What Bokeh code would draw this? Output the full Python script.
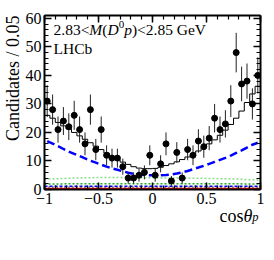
import numpy as np
from bokeh.plotting import figure
from bokeh.models import Label, LinearAxis, FixedTicker, Range1d, Title
from bokeh.embed import file_html
from bokeh.resources import INLINE

# ---------------- data ----------------
x_lo, x_hi, n_bins = -1.0, 1.0, 40
data_counts = [31, 28, 21, 24, 22, 26, 21, 16, 28, 14,
               21, 12, 11, 11, 8, 4, 4, 5, 6, 12,
               5, 9, 16, 3, 13, 4, 14, 12, 17, 15,
               18, 25, 21, 23, 31, 48, 37, 38, 30, 40]
fit_total = [26.0, 25.0, 23.5, 22.3, 21.2, 20.0, 18.8, 17.6, 16.4, 15.2,
             14.0, 12.8, 11.6, 10.5, 9.6, 8.8, 8.0, 7.5, 7.3, 7.3,
             7.4, 7.8, 8.4, 9.0, 9.7, 10.5, 11.4, 12.4, 13.5, 14.7,
             16.0, 17.4, 19.0, 20.8, 22.8, 25.0, 27.5, 30.5, 33.5, 36.2]
signal_curve = [17.0, 16.1, 15.2, 14.2, 13.3, 12.5, 11.7, 10.9, 10.1, 9.4,
                8.7, 8.0, 7.4, 6.9, 6.4, 5.9, 5.5, 5.3, 5.1, 5.0,
                5.0, 5.0, 5.1, 5.3, 5.6, 6.0, 6.5, 7.1, 7.7, 8.3,
                9.0, 9.7, 10.4, 11.1, 11.9, 12.8, 13.7, 14.7, 15.7, 16.4]
bkg_x = [-1.0, -0.75, -0.5, -0.25, 0.0, 0.25, 0.5, 0.75, 1.0]
bkg_light_green = [3.6, 4.0, 4.2, 4.2, 4.1, 4.0, 3.9, 3.7, 3.3]
bkg_dark_green = [1.9, 2.0, 2.0, 2.0, 2.0, 2.0, 2.0, 2.0, 1.9]
bkg_blue = [1.1, 1.1, 1.1, 1.1, 1.1, 1.1, 1.1, 1.1, 1.1]
bkg_black = [0.8, 0.8, 0.8, 0.8, 0.8, 0.8, 0.8, 0.8, 0.8]
bkg_red = [0.15, 0.15, 0.15, 0.15, 0.15, 0.15, 0.15, 0.15, 0.15]
x_major = [-1, -0.5, 0, 0.5, 1]
x_labels = {-1: "\u22121", -0.5: "\u22120.5", 0: "0", 0.5: "0.5", 1: "1"}
y_major = [0, 10, 20, 30, 40, 50, 60]

edges = np.linspace(x_lo, x_hi, n_bins + 1)
centers = 0.5 * (edges[:-1] + edges[1:])
counts = np.array(data_counts, dtype=float)
errs = np.sqrt(counts)

FONT = "Liberation Serif"
Y_MAX = 61
W, H = 274, 260
FX0, FX1, FY0, FY1 = 44.0, 260.0, 15.0, 218.0

p = figure(width=W, height=H, x_range=Range1d(x_lo, x_hi), y_range=Range1d(0, Y_MAX),
           output_backend="svg", toolbar_location=None,
           min_border_left=int(FX0), min_border_right=int(W - FX1),
           min_border_top=int(FY0), min_border_bottom=int(H - FY1))
p.xgrid.visible = False
p.ygrid.visible = False
p.outline_line_color = None
p.background_fill_color = "white"
p.border_fill_color = "white"

# components
p.line(x=bkg_x, y=bkg_red, line_color="#ff0000", line_width=2.5)
p.line(x=bkg_x, y=bkg_black, line_color="black", line_width=1.2, line_dash="1 3")
p.line(x=bkg_x, y=bkg_blue, line_color="#0000ff", line_width=1.5, line_dash="3 2")
p.line(x=bkg_x, y=bkg_dark_green, line_color="#22aa22", line_width=1.5, line_dash="2 2")
p.line(x=bkg_x, y=bkg_light_green, line_color="#88dd88", line_width=1.5, line_dash="2 2")
p.line(x=list(centers), y=signal_curve, line_color="#0000ff", line_width=2.5, line_dash="8 4")
p.step(x=list(edges), y=fit_total + [fit_total[-1]], mode="after", line_color="black", line_width=1)

# data
p.segment(x0=centers, y0=counts - errs, x1=centers, y1=counts + errs, line_color="#222222", line_width=1)
p.scatter(x=centers, y=counts, size=6, color="black")

# axes
def style_axis(ax, labels=True):
    ax.axis_line_width = 2
    ax.major_tick_in = 7
    ax.major_tick_out = 0
    ax.minor_tick_in = 4
    ax.minor_tick_out = 0
    ax.major_tick_line_width = 1.5
    ax.minor_tick_line_width = 1.2
    ax.major_label_text_font = FONT
    ax.major_label_text_color = "black"
    if labels:
        ax.major_label_text_font_size = "16px"
        ax.major_label_standoff = 3
    else:
        ax.major_label_text_font_size = "0px"
        ax.major_label_standoff = 0

xt = FixedTicker(ticks=x_major, minor_ticks=list(np.round(np.arange(-1, 1.001, 0.1), 2)))
yt = FixedTicker(ticks=y_major, minor_ticks=list(range(0, 62, 2)))
p.xaxis.ticker = xt
p.yaxis.ticker = yt
p.xaxis.major_label_overrides = x_labels
style_axis(p.xaxis[0])
style_axis(p.yaxis[0])
top = LinearAxis(ticker=xt)
right = LinearAxis(ticker=yt)
style_axis(top, labels=False)
style_axis(right, labels=False)
top.major_label_overrides = {t: "" for t in x_major}
right.major_label_overrides = {t: "" for t in y_major}
p.add_layout(top, "above")
p.add_layout(right, "right")

# pixel (reference image) -> data helpers
def dx(px):
    return x_lo + (px - FX0) * (x_hi - x_lo) / (FX1 - FX0)
def dy(py):
    return (FY1 - py) * Y_MAX / (FY1 - FY0)

def lab(text, px, py, size, style="normal", align="left", angle=0.0, place=None):
    l = Label(x=dx(px), y=dy(py), text=text, text_font=FONT,
              text_font_size=f"{size}px", text_font_style=style,
              text_align=align, text_baseline="alphabetic",
              angle=angle, text_color="black")
    if place:
        p.add_layout(l, place)
    else:
        p.add_layout(l)

# title text inside frame: 2.83 < M(D0 p) < 2.85 GeV
fs = 15.5
pieces = [("2.83<", "normal", 2.314, fs, 0), ("M", "italic", 0.833, fs, 0),
          ("(", "normal", 0.333, fs, 0), ("D", "italic", 0.722, fs, 0),
          ("0", "normal", 0.5, 11, -6), ("p", "italic", 0.5, fs, 0),
          (")<2.85 GeV", "normal", 4.785, fs, 0)]
cx = 53.0
for t, st, w, s, off in pieces:
    lab(t, cx, 31 + off, s, st)
    cx += w * s
lab("LHCb", 53, 53, fs)

# y axis title
p.add_layout(Title(text="Candidates / 0.05", align="right", text_font=FONT,
                   text_font_size="18px", text_font_style="normal",
                   text_color="black", standoff=0), "left")
# x axis title cos theta_p (in the bottom side panel)
lab("cos", 219.0, 249, 18, place="below")
lab("\u03b8", 243.0, 249, 18, "italic", place="below")
lab("p", 251.8, 250.5, 12.5, "italic", place="below")

open("out.html", "w").write(file_html(p, INLINE))
